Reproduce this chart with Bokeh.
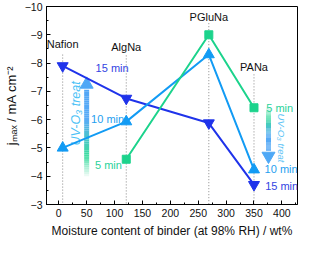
import numpy as np
from bokeh.plotting import figure
from bokeh.models import Range1d, SingleIntervalTicker
from bokeh.core.properties import value
from bokeh.embed import file_html
from bokeh.resources import INLINE

# ---- data ----
binders = ["Nafion", "AlgNa", "PGluNa", "PANa"]
moisture = [7, 121, 269, 350]
j_15min = [-7.9, -6.75, -5.88, -3.7]
j_10min = [-5.0, -5.93, -8.3, -4.23]
moisture_5min = [121, 269, 350]
j_5min = [-4.6, -9.0, -6.42]

x_tick_step = 50
y_tick_step = 1

# annotation positions (data units)
binder_label_y = [-8.66, -8.58, -9.64, -7.86]
guide_top_y = [-8.3, -8.27, -9.41, -7.6]
time_texts = ["15 min", "10 min", "5 min", "5 min", "10 min", "15 min"]
time_x = [66, 58, 65, 372, 369, 370]
time_y = [-7.82, -6.03, -4.4, -6.42, -4.25, -3.65]

C15 = "#1f33ea"
C10 = "#129bf4"
C5 = "#1cd38c"
time_colors = ["#3344e2", "#1fa0f0", "#2ad29a", "#2ad29a", "#1fa0f0", "#3344e2"]

FONT = "Liberation Sans"

p = figure(width=299, height=240, output_backend="svg", toolbar_location=None,
           x_range=Range1d(-22, 428), y_range=Range1d(-3, -10),
           min_border_top=6, min_border_right=2, min_border_left=0, min_border_bottom=0)
p.grid.visible = False
p.outline_line_color = "black"
p.outline_line_width = 1
p.background_fill_color = "white"

for ax in (p.xaxis[0], p.yaxis[0]):
    ax.major_tick_in = 4
    ax.major_tick_out = 0
    ax.minor_tick_in = 2
    ax.minor_tick_out = 0
    ax.axis_line_color = "black"
    ax.major_tick_line_color = "black"
    ax.minor_tick_line_color = "black"
    ax.major_label_text_font = FONT
    ax.major_label_text_font_size = "10.5px"
    ax.major_label_text_color = "#111111"
    ax.axis_label_text_font = FONT
    ax.axis_label_text_font_style = "normal"
    ax.axis_label_text_color = "#111111"

p.xaxis.ticker = SingleIntervalTicker(interval=x_tick_step, num_minor_ticks=2)
p.yaxis.ticker = SingleIntervalTicker(interval=y_tick_step, num_minor_ticks=2)
p.xaxis.axis_label = "Moisture content of binder (at 98% RH) / wt%"
p.xaxis.axis_label_text_font_size = "12px"
p.xaxis.axis_label_standoff = 4
p.xaxis.major_label_standoff = 4
p.yaxis.axis_label = "jₘₐₓ / mA cm⁻²"
p.yaxis.axis_label_text_font_size = "13px"
p.yaxis.axis_label_standoff = 3
p.yaxis.major_label_standoff = 4

# dotted guide lines
p.segment(x0=moisture, y0=guide_top_y, x1=moisture, y1=[-3] * 4,
          line_color="#888888", line_width=1, line_dash="1 2")
p.text(x=moisture, y=binder_label_y, text=binders, text_font=value(FONT),
       text_font_size="11px", text_align="center", text_baseline="middle",
       text_color="#111111")

# gradient arrows
def grad_color(t, stops):
    for (t0, c0), (t1, c1) in zip(stops[:-1], stops[1:]):
        if t0 <= t <= t1:
            f = (t - t0) / (t1 - t0) if t1 > t0 else 0
            a = [int(c0[i:i + 2], 16) for i in (1, 3, 5)]
            b = [int(c1[i:i + 2], 16) for i in (1, 3, 5)]
            return "#%02x%02x%02x" % tuple(int(round(a[k] + (b[k] - a[k]) * f)) for k in range(3))
    return stops[-1][1]

stops = [(0.0, "#f4fcf8"), (0.25, "#3ddba0"), (0.65, "#58acf6"), (1.0, "#52a6f5")]

def grad_arrow(x, y_tail, y_base, y_head, n=40):
    ys = np.linspace(y_tail, y_base, n + 1)
    cols = [grad_color((i + 0.5) / n, stops) for i in range(n)]
    p.segment(x0=[x] * n, y0=ys[:-1], x1=[x] * n, y1=ys[1:], line_color=cols,
              line_width=5, line_cap="butt")
    marker = "triangle" if y_head < y_tail else "inverted_triangle"
    p.scatter(x=[x], y=[(y_base + y_head) / 2], marker=marker, size=13,
              fill_color="#4ea8f6", line_color="#4ea8f6")

grad_arrow(50, -4.0, -7.06, -7.43)
grad_arrow(376, -6.42, -4.9, -4.53)

p.text(x=[30], y=[-6.22], text=["UV-O₃ treat"], angle=np.pi / 2,
       text_font=value(FONT), text_font_style="italic", text_font_size="12.5px",
       text_align="center", text_baseline="middle", text_color="#4cc2f6")
p.text(x=[400], y=[-5.35], text=["UV-O₃ treat"], angle=-np.pi / 2,
       text_font=value(FONT), text_font_style="italic", text_font_size="9.5px",
       text_align="center", text_baseline="middle", text_color="#5cc4f6")

# series
p.line(moisture, j_15min, line_color=C15, line_width=2)
p.scatter(moisture, j_15min, marker="inverted_triangle", size=11,
          fill_color=C15, line_color=C15)
p.line(moisture, j_10min, line_color=C10, line_width=2)
p.scatter(moisture, j_10min, marker="triangle", size=11,
          fill_color=C10, line_color=C10)
p.line(moisture_5min, j_5min, line_color=C5, line_width=2)
p.scatter(moisture_5min, j_5min, marker="square", size=8,
          fill_color=C5, line_color=C5)

p.text(x=time_x, y=time_y, text=time_texts, text_font=value(FONT),
       text_font_size="11px", text_align="left", text_baseline="middle",
       text_color=time_colors)

open("out.html", "w").write(file_html(p, INLINE))
